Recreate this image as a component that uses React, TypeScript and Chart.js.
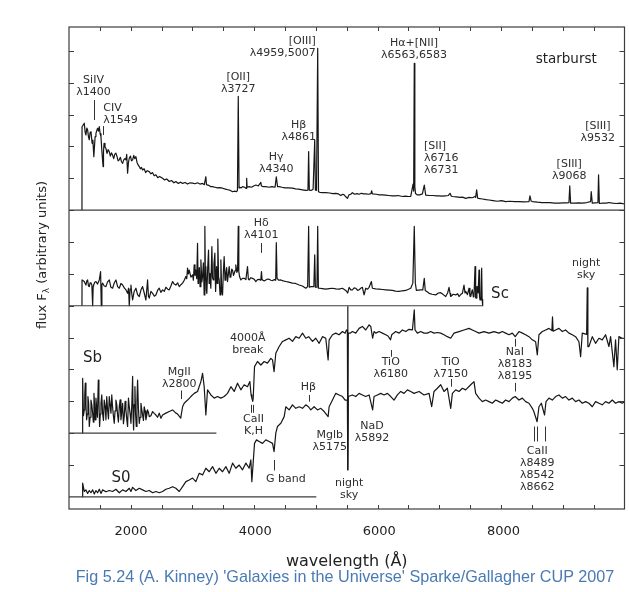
import React, { useEffect, useRef } from "react";
import { Chart, registerables } from "chart.js";

Chart.register(...registerables);

type Pt = [number, number];

// Wavelength (Å) and flux range of the plot box; flux is in stacked arbitrary units.
const WAVE_MIN = 1000;
const WAVE_MAX = 9950;
const FLUX_MIN = -0.38;
const FLUX_MAX = 14.75;

// Vertical offset of each spectrum's zero line, and where that zero line stops (Å).
const offsets = [9, 6, 2, 0];
const zeroLineEnds = [9950, 7665, 3375, 4985];

// Starburst galaxy: [wavelength Å, flux above its zero line]
const starburstFlux: Pt[] = [
  [1209, 0], [1210, 2.62], [1246, 2.73], [1260, 2.45], [1273, 2.36], [1287, 2.58], [1300, 2.52], [1314, 2.3],
  [1327, 2.21], [1340, 2.44], [1354, 2.47], [1372, 2.1], [1385, 2.2], [1400, 1.68], [1412, 2.05], [1421, 2.31],
  [1434, 2.41], [1448, 2.5], [1461, 2.57], [1475, 2.48], [1488, 2.62], [1502, 2.4], [1515, 2.31], [1528, 1.9],
  [1549, 1.37], [1556, 1.85], [1565, 2.1], [1580, 1.98], [1595, 1.94], [1612, 1.78], [1630, 1.9], [1649, 1.84],
  [1666, 1.7], [1684, 1.8], [1702, 1.73], [1720, 1.62], [1738, 1.76], [1756, 1.79], [1774, 1.68], [1792, 1.55],
  [1810, 1.58], [1828, 1.66], [1846, 1.52], [1864, 1.47], [1882, 1.58], [1900, 1.62], [1917, 1.58], [1930, 1.75],
  [1944, 1.16], [1958, 1.5], [1971, 1.63], [1990, 1.7], [2007, 1.55], [2025, 1.58], [2043, 1.72], [2060, 1.62],
  [2078, 1.68], [2096, 1.5], [2114, 1.42], [2132, 1.37], [2150, 1.3], [2168, 1.34], [2186, 1.26], [2210, 1.3],
  [2235, 1.18], [2260, 1.24], [2293, 1.21], [2320, 1.14], [2345, 1.18], [2372, 1.08], [2400, 1.11], [2430, 1.02],
  [2460, 1.06], [2508, 1.0], [2540, 0.95], [2575, 0.98], [2615, 0.9], [2650, 0.93], [2690, 0.86], [2722, 0.9],
  [2760, 0.84], [2800, 0.88], [2830, 0.84], [2870, 0.87], [2910, 0.82], [2950, 0.86], [2991, 0.85], [3030, 0.83],
  [3070, 0.86], [3110, 0.82], [3152, 0.84], [3180, 0.8], [3205, 1.05], [3215, 0.8], [3250, 0.78], [3280, 0.74],
  [3313, 0.74], [3350, 0.72], [3390, 0.7], [3430, 0.71], [3474, 0.69], [3520, 0.66], [3560, 0.64], [3600, 0.62],
  [3635, 0.58], [3670, 0.6], [3700, 0.58], [3714, 0.62], [3727, 3.57], [3740, 0.7], [3750, 0.72], [3775, 0.7],
  [3796, 0.74], [3830, 0.72], [3855, 0.68], [3862, 1.0], [3870, 0.72], [3903, 0.74], [3940, 0.72], [3975, 0.76],
  [4010, 0.79], [4050, 0.76], [4091, 0.87], [4100, 0.76], [4130, 0.74], [4171, 0.74], [4220, 0.72], [4270, 0.74],
  [4320, 0.72], [4340, 1.05], [4360, 0.74], [4386, 0.74], [4430, 0.72], [4480, 0.7], [4530, 0.7], [4601, 0.69],
  [4650, 0.67], [4700, 0.66], [4760, 0.64], [4815, 0.62], [4850, 0.63], [4861, 1.84], [4872, 0.63], [4900, 0.62],
  [4933, 0.66], [4959, 2.21], [4970, 0.63], [4988, 0.62], [5007, 5.08], [5020, 0.58], [5040, 0.56], [5090, 0.55],
  [5137, 0.55], [5200, 0.54], [5250, 0.52], [5298, 0.53], [5340, 0.51], [5380, 0.46], [5410, 0.5], [5433, 0.48],
  [5460, 0.42], [5486, 0.37], [5510, 0.48], [5540, 0.5], [5566, 0.55], [5600, 0.5], [5640, 0.52], [5674, 0.5],
  [5710, 0.53], [5750, 0.51], [5781, 0.51], [5830, 0.5], [5865, 0.52], [5876, 0.61], [5888, 0.51], [5950, 0.5],
  [6000, 0.48], [6049, 0.48], [6100, 0.47], [6150, 0.46], [6210, 0.45], [6260, 0.45], [6300, 0.46], [6372, 0.43],
  [6420, 0.44], [6470, 0.43], [6506, 0.43], [6543, 0.82], [6553, 0.6], [6563, 4.61], [6572, 0.74], [6583, 0.52],
  [6613, 0.48], [6650, 0.48], [6694, 0.51], [6724, 0.79], [6747, 0.47], [6800, 0.46], [6860, 0.46], [6920, 0.45],
  [6962, 0.45], [7010, 0.44], [7065, 0.45], [7110, 0.46], [7139, 0.53], [7160, 0.44], [7177, 0.43], [7240, 0.42],
  [7300, 0.4], [7340, 0.41], [7391, 0.37], [7450, 0.4], [7500, 0.39], [7540, 0.43], [7552, 0.4], [7568, 0.64],
  [7584, 0.38], [7595, 0.37], [7660, 0.35], [7720, 0.33], [7767, 0.32], [7830, 0.3], [7900, 0.28], [7970, 0.3],
  [8035, 0.27], [8100, 0.28], [8180, 0.27], [8250, 0.27], [8330, 0.26], [8411, 0.27], [8427, 0.45], [8445, 0.29],
  [8465, 0.27], [8550, 0.25], [8620, 0.24], [8680, 0.24], [8750, 0.24], [8820, 0.22], [8894, 0.22], [8960, 0.23],
  [9020, 0.23], [9055, 0.24], [9068, 0.76], [9082, 0.22], [9150, 0.22], [9210, 0.23], [9270, 0.22], [9340, 0.24],
  [9404, 0.27], [9414, 0.58], [9431, 0.22], [9480, 0.23], [9522, 0.24], [9532, 1.11], [9545, 0.21], [9600, 0.22],
  [9660, 0.22], [9700, 0.24], [9753, 0.22], [9820, 0.21], [9880, 0.22], [9940, 0.2],
];

// Sc spiral
const scFlux: Pt[] = [
  [1209, 0], [1210, 0.81], [1246, 0.76], [1260, 0.7], [1273, 0.65], [1287, 0.78], [1300, 0.81], [1314, 0.62],
  [1327, 0.6], [1340, 0.72], [1354, 0.71], [1368, 0.66], [1381, 0.0], [1390, 0.62], [1397, 0.65], [1415, 0.74],
  [1434, 0.76], [1460, 0.68], [1488, 0.81], [1509, 1.07], [1520, 0.0], [1530, 0.66], [1541, 0.71], [1568, 0.62],
  [1595, 0.6], [1620, 0.74], [1649, 0.81], [1675, 0.58], [1702, 0.55], [1730, 0.72], [1756, 0.81], [1783, 0.6],
  [1810, 0.55], [1837, 0.7], [1864, 0.65], [1890, 0.56], [1917, 0.5], [1944, 0.39], [1960, 0.55], [1971, 0.0],
  [1985, 0.52], [1998, 0.65], [2010, 0.4], [2025, 0.18], [2050, 0.45], [2078, 0.55], [2105, 0.35], [2132, 0.29],
  [2160, 0.5], [2186, 0.6], [2212, 0.4], [2239, 0.18], [2255, 0.55], [2266, 0.81], [2280, 0.3], [2293, 0.24],
  [2320, 0.45], [2347, 0.39], [2375, 0.3], [2400, 0.34], [2427, 0.48], [2454, 0.55], [2480, 0.42], [2508, 0.5],
  [2535, 0.45], [2561, 0.58], [2590, 0.52], [2615, 0.5], [2642, 0.62], [2669, 0.76], [2695, 0.68], [2722, 0.65],
  [2750, 0.72], [2776, 0.6], [2803, 0.66], [2830, 0.71], [2857, 0.8], [2883, 0.92], [2897, 0.85], [2910, 1.18],
  [2924, 1.0], [2937, 1.12], [2964, 0.9], [2991, 0.97], [3004, 0.8], [3017, 1.28], [3030, 0.95], [3044, 1.12],
  [3058, 0.85], [3071, 1.96], [3080, 0.7], [3087, 0.81], [3100, 1.2], [3112, 0.6], [3125, 1.44], [3140, 0.75],
  [3152, 0.92], [3165, 1.35], [3178, 0.34], [3189, 2.49], [3198, 0.8], [3205, 1.23], [3213, 0.5], [3221, 0.39],
  [3235, 1.2], [3248, 1.75], [3258, 0.7], [3270, 1.02], [3285, 0.55], [3302, 1.86], [3312, 0.9], [3323, 0.81],
  [3335, 1.3], [3350, 1.65], [3362, 0.45], [3377, 1.23], [3388, 0.7], [3398, 2.09], [3410, 0.9], [3420, 0.81],
  [3434, 0.34], [3447, 1.44], [3460, 0.5], [3474, 0.34], [3488, 1.1], [3500, 1.54], [3514, 0.8], [3527, 1.02],
  [3540, 1.2], [3554, 0.76], [3568, 1.0], [3581, 1.23], [3595, 0.9], [3608, 0.92], [3622, 1.15], [3635, 1.12],
  [3650, 0.95], [3662, 1.02], [3675, 1.1], [3688, 1.28], [3705, 1.05], [3716, 1.1], [3727, 2.49], [3736, 1.07],
  [3750, 0.9], [3769, 0.81], [3795, 0.86], [3822, 0.86], [3850, 0.82], [3876, 1.23], [3890, 0.84], [3903, 0.81],
  [3930, 0.88], [3957, 0.86], [3985, 0.83], [4010, 0.76], [4037, 0.82], [4064, 0.83], [4090, 0.8], [4101, 1.07],
  [4110, 0.82], [4118, 0.81], [4145, 0.78], [4171, 0.81], [4200, 0.84], [4225, 0.83], [4252, 0.8], [4279, 0.79],
  [4310, 0.82], [4330, 0.8], [4340, 1.98], [4352, 0.86], [4380, 0.8], [4413, 0.81], [4450, 0.78], [4493, 0.76],
  [4540, 0.74], [4601, 0.71], [4650, 0.7], [4708, 0.65], [4760, 0.62], [4815, 0.55], [4845, 0.6], [4861, 2.49],
  [4872, 0.58], [4900, 0.6], [4945, 0.6], [4959, 1.6], [4970, 0.58], [4995, 0.58], [5007, 2.49], [5018, 0.55],
  [5040, 0.55], [5080, 0.54], [5137, 0.52], [5190, 0.54], [5245, 0.55], [5300, 0.53], [5352, 0.52], [5405, 0.55],
  [5459, 0.48], [5490, 0.4], [5513, 0.58], [5540, 0.5], [5566, 0.5], [5595, 0.56], [5620, 0.55], [5650, 0.48],
  [5674, 0.5], [5700, 0.55], [5727, 0.58], [5754, 0.34], [5781, 0.55], [5810, 0.52], [5835, 0.58], [5872, 0.76],
  [5888, 0.55], [5940, 0.53], [5996, 0.52], [6050, 0.51], [6103, 0.5], [6160, 0.49], [6211, 0.48], [6260, 0.46],
  [6318, 0.45], [6370, 0.47], [6425, 0.48], [6470, 0.52], [6506, 0.55], [6540, 0.71], [6563, 2.49], [6580, 0.71],
  [6597, 0.48], [6630, 0.49], [6667, 0.5], [6700, 0.5], [6724, 0.86], [6740, 0.48], [6770, 0.44], [6801, 0.39],
  [6850, 0.36], [6908, 0.34], [6950, 0.4], [6989, 0.41], [7030, 0.35], [7069, 0.29], [7100, 0.4], [7123, 0.58],
  [7140, 0.38], [7150, 0.29], [7190, 0.36], [7230, 0.34], [7260, 0.38], [7284, 0.29], [7310, 0.35], [7338, 0.39],
  [7364, 0.65], [7380, 0.4], [7391, 0.45], [7420, 0.35], [7445, 0.55], [7460, 0.3], [7472, 0.29], [7490, 0.45],
  [7499, 0.5], [7515, 0.28], [7525, 0.29], [7542, 1.23], [7552, 0.25], [7563, 0.24], [7572, 0.6], [7579, 0.6],
  [7592, 0.4], [7606, 1.12], [7614, 0.3], [7622, 0.18], [7636, 0.35], [7649, 1.18], [7656, 0.2], [7665, 0.0],
];

// Sb spiral
const sbFlux: Pt[] = [
  [1219, 0], [1220, 1.72], [1233, 0.55], [1246, 0.73], [1254, 1.2], [1262, 1.57], [1273, 0.9], [1284, 0.42],
  [1295, 0.6], [1305, 1.15], [1316, 0.95], [1327, 0.21], [1340, 0.5], [1354, 1.04], [1367, 0.9], [1381, 0.63],
  [1392, 0.35], [1402, 1.25], [1412, 0.9], [1423, 0.42], [1434, 1.1], [1445, 0.83], [1458, 0.5], [1472, 1.67],
  [1482, 1.0], [1493, 0.21], [1504, 0.6], [1515, 0.94], [1528, 1.2], [1541, 0.63], [1555, 0.4], [1568, 1.04],
  [1582, 0.85], [1595, 0.42], [1608, 1.15], [1622, 0.73], [1636, 0.45], [1649, 1.15], [1662, 0.9], [1676, 0.63],
  [1689, 1.2], [1702, 0.83], [1715, 0.55], [1729, 0.31], [1742, 0.7], [1756, 1.04], [1770, 0.9], [1783, 0.57],
  [1796, 0.35], [1810, 0.83], [1824, 1.05], [1837, 0.42], [1850, 0.65], [1864, 0.94], [1877, 0.3], [1890, 0.52],
  [1904, 1.0], [1917, 0.73], [1930, 0.45], [1944, 0.21], [1958, 1.1], [1971, 0.83], [1985, 0.6], [1998, 0.31],
  [2012, 0.9], [2025, 1.78], [2033, 0.5], [2041, 0.1], [2051, 0.9], [2062, 1.46], [2073, 0.6], [2084, 0.21],
  [2095, 1.0], [2105, 1.67], [2118, 0.8], [2132, 0.31], [2145, 0.5], [2159, 0.94], [2172, 0.75], [2186, 0.57],
  [2199, 0.4], [2212, 0.83], [2225, 0.7], [2239, 0.42], [2252, 0.55], [2266, 0.73], [2280, 0.65], [2293, 0.52],
  [2320, 0.55], [2347, 0.68], [2373, 0.62], [2400, 0.57], [2427, 0.5], [2454, 0.63],
  [2481, 0.47], [2508, 0.57], [2561, 0.63], [2615, 0.68], [2669, 0.73], [2722, 0.63], [2750, 0.6], [2800, 0.47],
  [2830, 0.83], [2856, 0.94], [2910, 1.04], [2964, 1.15], [3017, 1.25], [3071, 1.31], [3125, 1.62], [3152, 1.88],
  [3178, 1.46], [3205, 0.57], [3232, 1.36], [3286, 1.2], [3340, 1.1], [3393, 1.15], [3447, 1.1], [3500, 1.15],
  [3554, 1.25], [3608, 1.46], [3662, 1.31], [3715, 1.57], [3769, 1.36], [3822, 1.52], [3876, 1.46], [3914, 1.62],
  [3934, 1.2], [3946, 1.1], [3960, 1.0], [3968, 1.1], [3989, 2.09], [4037, 2.25], [4091, 2.14], [4144, 2.25],
  [4198, 2.2], [4252, 2.35], [4279, 2.3], [4304, 1.93], [4332, 2.51], [4386, 2.72], [4440, 2.88], [4493, 2.93],
  [4547, 2.98], [4601, 2.88], [4654, 3.03], [4708, 2.98], [4762, 3.14], [4815, 2.98], [4861, 3.03], [4923, 2.88],
  [4976, 2.98], [5030, 2.82], [5084, 3.03], [5137, 2.98], [5175, 2.3], [5191, 2.93], [5245, 3.09], [5298, 3.14],
  [5352, 3.09], [5406, 3.19], [5449, 3.14], [5470, 3.24], [5485, 3.2], [5490, 3.97], [5495, -1.15], [5500, 3.14],
  [5529, 3.14], [5566, 3.19], [5620, 3.14], [5674, 3.29], [5727, 3.35], [5781, 3.24], [5835, 3.4], [5862, 3.35],
  [5892, 2.98], [5915, 3.19], [5942, 3.14], [5996, 3.19], [6049, 3.14], [6103, 3.09], [6140, 3.05], [6180, 2.93],
  [6200, 3.09], [6230, 3.14], [6264, 3.19], [6318, 3.14], [6372, 3.24], [6425, 3.19], [6479, 3.26], [6533, 3.24],
  [6563, 3.87], [6575, 3.24], [6613, 3.14], [6667, 3.19], [6720, 3.14], [6774, 3.14], [6828, 3.19], [6881, 3.14],
  [6935, 3.16], [6989, 3.14], [7042, 3.09], [7096, 3.03], [7150, 2.98], [7203, 3.14], [7284, 3.19], [7364, 3.24],
  [7445, 3.29], [7499, 3.24], [7552, 3.19], [7606, 3.14], [7686, 3.19], [7767, 3.14], [7847, 3.19], [7928, 3.14],
  [7982, 3.19], [8035, 3.14], [8089, 3.09], [8143, 3.14], [8189, 3.03], [8250, 3.19], [8304, 3.14], [8357, 3.09],
  [8411, 3.03], [8465, 2.93], [8518, 2.87], [8545, 2.46], [8572, 3.09], [8626, 3.19], [8680, 3.24], [8733, 3.29],
  [8780, 3.22], [8790, 3.65], [8800, 3.2], [8840, 3.24], [8894, 3.29], [8948, 3.19], [9001, 3.24], [9055, 3.14],
  [9109, 3.09], [9162, 3.03], [9216, 2.87], [9243, 2.4], [9270, 3.14], [9340, 3.1], [9350, 4.56], [9360, 2.72],
  [9377, 2.72], [9431, 3.03], [9484, 2.82], [9538, 2.98], [9592, 2.93], [9645, 3.09], [9699, 2.72], [9726, 3.03],
  [9779, 2.09], [9806, 2.93], [9833, 1.99], [9860, 3.03], [9913, 2.98], [9940, 2.98],
];

// S0 lenticular
const s0Flux: Pt[] = [
  [1219, 0], [1220, 0.43], [1246, 0.17], [1273, 0.22], [1300, 0.11], [1327, 0.2], [1354, 0.13], [1381, 0.22],
  [1407, 0.09], [1434, 0.2], [1461, 0.13], [1488, 0.24], [1515, 0.11], [1541, 0.22], [1595, 0.16], [1649, 0.2],
  [1702, 0.17], [1756, 0.24], [1810, 0.13], [1864, 0.22], [1917, 0.17], [1971, 0.27], [1998, 0.17], [2025, 0.3],
  [2078, 0.2], [2132, 0.27], [2186, 0.22], [2239, 0.17], [2293, 0.2], [2347, 0.13], [2400, 0.17], [2454, 0.13],
  [2508, 0.17], [2561, 0.24], [2615, 0.27], [2669, 0.32], [2722, 0.27], [2776, 0.17], [2830, 0.32], [2883, 0.48],
  [2937, 0.53], [2991, 0.59], [3044, 0.48], [3098, 0.74], [3152, 0.69], [3205, 0.9], [3259, 0.79], [3313, 0.95],
  [3367, 0.74], [3420, 0.9], [3474, 0.79], [3527, 0.95], [3581, 0.74], [3635, 1.06], [3688, 0.9], [3742, 1.0],
  [3796, 0.85], [3850, 1.06], [3903, 0.9], [3930, 1.16], [3946, 0.48], [3967, 1.06], [3989, 1.68], [4021, 1.79],
  [4064, 1.74], [4118, 1.68], [4171, 1.79], [4225, 1.74], [4279, 1.68], [4304, 1.42], [4332, 2.0], [4359, 2.21],
  [4413, 2.31], [4467, 2.52], [4493, 2.83], [4547, 2.73], [4601, 2.89], [4654, 2.78], [4708, 2.83], [4762, 2.78],
  [4815, 2.89], [4858, 2.83], [4896, 2.73], [4949, 2.83], [5003, 2.73], [5057, 2.78], [5111, 2.68], [5175, 2.52],
  [5191, 2.83], [5245, 3.04], [5298, 3.25], [5352, 3.2], [5406, 3.15], [5449, 3.04], [5485, 3.04], [5492, 0.85],
  [5500, 3.15], [5566, 3.2], [5620, 3.15], [5674, 3.25], [5727, 3.2], [5781, 3.15], [5835, 3.2], [5892, 2.73],
  [5915, 3.15], [5969, 3.2], [6023, 3.25], [6076, 3.2], [6130, 3.25], [6184, 3.15], [6237, 3.04], [6291, 3.2],
  [6345, 3.31], [6398, 3.25], [6452, 3.36], [6506, 3.31], [6559, 3.25], [6640, 3.31], [6720, 3.2], [6801, 3.25],
  [6843, 2.83], [6881, 3.31], [6935, 3.41], [6989, 3.52], [7042, 3.31], [7096, 3.41], [7150, 2.78], [7177, 3.25],
  [7230, 3.36], [7284, 3.31], [7338, 3.41], [7391, 3.36], [7472, 3.52], [7525, 3.62], [7552, 3.25], [7606, 3.1],
  [7660, 2.99], [7713, 3.04], [7767, 2.99], [7820, 2.94], [7874, 3.04], [7928, 2.99], [7982, 2.94], [8035, 3.04],
  [8089, 2.99], [8143, 3.1], [8189, 3.15], [8250, 3.04], [8304, 3.1], [8357, 2.99], [8411, 2.94], [8465, 2.78],
  [8489, 2.68], [8542, 2.36], [8572, 2.83], [8610, 2.94], [8662, 2.57], [8685, 2.99], [8733, 3.1], [8787, 3.04],
  [8840, 3.15], [8894, 3.2], [8948, 3.1], [9001, 3.15], [9055, 3.04], [9109, 3.1], [9162, 2.99], [9216, 3.04],
  [9270, 2.94], [9323, 2.99], [9377, 2.94], [9431, 2.83], [9484, 2.99], [9538, 2.94], [9592, 2.89], [9645, 2.99],
  [9699, 2.94], [9753, 3.04], [9806, 2.94], [9860, 2.99], [9913, 2.94], [9950, 2.99],
];

const spectra = [starburstFlux, scFlux, sbFlux, s0Flux];

// Wavelengths that carry a number on the axis
const labelledWavelengths = [2000, 4000, 6000, 8000];

// Galaxy type names: [text, wavelength Å, stacked flux]
const typeNames: [string, number, number][] = [
  ["starburst", 9011, 13.74],
  ["Sc", 7944, 6.37],
  ["Sb", 1380, 4.35],
  ["S0", 1837, 0.59],
];

// Line identifications: text lines, anchor wavelength, stacked flux of the first line, alignment
type LineLabel = { text: string[]; x: number; y: number; align?: CanvasTextAlign };
const lineLabels: LineLabel[] = [
  { text: ["SiIV", "λ1400"], x: 1395, y: 13.09 },
  { text: ["CIV", "λ1549"], x: 1552, y: 12.2, align: "left" },
  { text: ["[OII]", "λ3727"], x: 3727, y: 13.17 },
  { text: ["[OIII]", "λ4959,5007"], x: 4975, y: 14.32, align: "right" },
  { text: ["Hβ", "λ4861"], x: 4700, y: 11.68 },
  { text: ["Hγ", "λ4340"], x: 4338, y: 10.68 },
  { text: ["Hα+[NII]", "λ6563,6583"], x: 6559, y: 14.24 },
  { text: ["[SII]", "λ6716", "λ6731"], x: 6720, y: 11.02, align: "left" },
  { text: ["[SIII]", "λ9068"], x: 9060, y: 10.44 },
  { text: ["[SIII]", "λ9532"], x: 9520, y: 11.64 },
  { text: ["Hδ", "λ4101"], x: 4096, y: 8.59 },
  { text: ["night", "sky"], x: 9333, y: 7.34 },
  { text: ["MgII", "λ2800"], x: 2775, y: 3.93 },
  { text: ["4000Å", "break"], x: 3880, y: 4.98 },
  { text: ["CaII", "K,H"], x: 3972, y: 2.45 },
  { text: ["Hβ"], x: 4858, y: 3.44 },
  { text: ["Mglb", "λ5175"], x: 5200, y: 1.95 },
  { text: ["G band"], x: 4494, y: 0.56 },
  { text: ["night", "sky"], x: 5513, y: 0.43 },
  { text: ["TiO", "λ6180"], x: 6184, y: 4.22 },
  { text: ["TiO", "λ7150"], x: 7150, y: 4.22 },
  { text: ["NaI", "λ8183", "λ8195"], x: 8185, y: 4.53 },
  { text: ["NaD", "λ5892"], x: 5883, y: 2.21 },
  { text: ["CaII", "λ8489", "λ8542", "λ8662"], x: 8544, y: 1.45 },
];

// Short pointer marks: [wavelength Å, stacked flux from, stacked flux to]
const pointerMarks: [number, number, number][] = [
  [1400, 12.46, 11.83],
  [1549, 11.64, 11.36],
  [4101, 7.97, 7.66],
  [2800, 3.34, 3.07],
  [3934, 2.89, 2.64],
  [3968, 2.89, 2.64],
  [4861, 3.2, 2.99],
  [4304, 1.16, 0.83],
  [6180, 4.61, 4.4],
  [7150, 3.7, 3.46],
  [8189, 4.96, 4.72],
  [8189, 3.58, 3.31],
  [8489, 2.21, 1.74],
  [8542, 2.21, 1.74],
  [8662, 2.21, 1.74],
];

const INK = "#161616";
const LABEL_INK = "#2e2e2e";
const FONT = '"DejaVu Sans", sans-serif';

const decorations = {
  id: "spectrumDecorations",
  afterDraw(chart: any) {
    const { ctx, chartArea: a, scales } = chart;
    const xs = scales.x;
    const ys = scales.y;
    ctx.save();

    // plot frame
    ctx.strokeStyle = "#3c3c3c";
    ctx.lineWidth = 1.2;
    ctx.strokeRect(a.left, a.top, a.right - a.left, a.bottom - a.top);

    // inward ticks on all four sides
    ctx.lineWidth = 1;
    ctx.beginPath();
    for (const t of xs.ticks) {
      if (t.value <= xs.min || t.value >= xs.max) continue;
      const px = Math.round(xs.getPixelForValue(t.value)) + 0.5;
      const len = t.value % 2000 === 0 ? 8 : 4;
      ctx.moveTo(px, a.bottom);
      ctx.lineTo(px, a.bottom - len);
      ctx.moveTo(px, a.top);
      ctx.lineTo(px, a.top + len);
    }
    for (const t of ys.ticks) {
      if (!Number.isInteger(t.value)) continue;
      const py = Math.round(ys.getPixelForValue(t.value)) + 0.5;
      ctx.moveTo(a.left, py);
      ctx.lineTo(a.left + 5, py);
      ctx.moveTo(a.right, py);
      ctx.lineTo(a.right - 5, py);
    }
    ctx.stroke();

    // pointer marks next to spectral features
    ctx.strokeStyle = "#333";
    ctx.lineWidth = 1;
    ctx.beginPath();
    for (const [w, f1, f2] of pointerMarks) {
      const px = Math.round(xs.getPixelForValue(w)) + 0.5;
      ctx.moveTo(px, ys.getPixelForValue(f1));
      ctx.lineTo(px, ys.getPixelForValue(f2));
    }
    ctx.stroke();

    // feature labels
    ctx.fillStyle = LABEL_INK;
    ctx.textBaseline = "middle";
    ctx.font = `11px ${FONT}`;
    for (const lbl of lineLabels) {
      ctx.textAlign = lbl.align ?? "center";
      const px = xs.getPixelForValue(lbl.x);
      const py = ys.getPixelForValue(lbl.y);
      lbl.text.forEach((s, i) => ctx.fillText(s, px, py + i * 12));
    }

    // galaxy type names
    ctx.fillStyle = "#222";
    ctx.textAlign = "center";
    for (const [name, w, f] of typeNames) {
      ctx.font = name === "starburst" ? `13.5px ${FONT}` : `15px ${FONT}`;
      ctx.fillText(name, xs.getPixelForValue(w), ys.getPixelForValue(f));
    }

    // wavelength numbers under the axis
    ctx.fillStyle = "#222";
    ctx.font = `13px ${FONT}`;
    ctx.textAlign = "center";
    ctx.textBaseline = "alphabetic";
    for (const w of labelledWavelengths) {
      ctx.fillText(String(w), xs.getPixelForValue(w), a.bottom + 26);
    }

    // vertical axis title with subscript lambda
    const cx = a.left - 26;
    const cy = 255;
    ctx.translate(cx, cy);
    ctx.rotate(-Math.PI / 2);
    ctx.fillStyle = "#222";
    ctx.textAlign = "left";
    ctx.textBaseline = "middle";
    const main = "flux F";
    const sub = "λ";
    const rest = " (arbitrary units)";
    ctx.font = `13px ${FONT}`;
    const w1 = ctx.measureText(main).width;
    const w3 = ctx.measureText(rest).width;
    ctx.font = `9px ${FONT}`;
    const w2 = ctx.measureText(sub).width;
    let x0 = -(w1 + w2 + w3) / 2;
    ctx.font = `13px ${FONT}`;
    ctx.fillText(main, x0, 0);
    x0 += w1;
    ctx.font = `9px ${FONT}`;
    ctx.fillText(sub, x0, 4);
    x0 += w2;
    ctx.font = `13px ${FONT}`;
    ctx.fillText(rest, x0, 0);

    ctx.restore();
  },
};

export default function App() {
  const canvasRef = useRef<HTMLCanvasElement | null>(null);

  useEffect(() => {
    if (!canvasRef.current) return;

    const datasets: any[] = [];
    spectra.forEach((flux, i) => {
      // zero line of this spectrum
      datasets.push({
        data: [
          { x: WAVE_MIN, y: offsets[i] },
          { x: zeroLineEnds[i], y: offsets[i] },
        ],
        borderColor: "#3c3c3c",
        borderWidth: 1.2,
        pointRadius: 0,
      });
      datasets.push({
        data: flux.map(([w, f]) => ({ x: w, y: f + offsets[i] })),
        borderColor: INK,
        borderWidth: 1.2,
        borderJoinStyle: "round",
        pointRadius: 0,
      });
    });

    const chart = new Chart(canvasRef.current, {
      type: "line",
      data: { datasets },
      plugins: [decorations],
      options: {
        responsive: false,
        animation: false,
        events: [],
        layout: { padding: { top: 27, right: 4.5, left: 0, bottom: 0 } },
        plugins: { legend: { display: false }, tooltip: { enabled: false } },
        elements: { line: { tension: 0 } },
        scales: {
          x: {
            type: "linear",
            position: "bottom",
            min: WAVE_MIN,
            max: WAVE_MAX,
            afterFit: (s: any) => {
              s.height = 83;
              s.paddingLeft = 0;
              s.paddingRight = 0;
            },
            grid: { display: false, drawTicks: false },
            border: { display: false },
            ticks: { display: false, stepSize: 500, autoSkip: false, maxRotation: 0 },
            title: {
              display: true,
              text: "wavelength (Å)",
              color: "#222",
              font: { family: FONT, size: 16 },
              padding: { top: 0, bottom: 21 },
            },
          },
          y: {
            type: "linear",
            min: FLUX_MIN,
            max: FLUX_MAX,
            afterFit: (s: any) => {
              s.width = 69;
              s.paddingTop = 0;
              s.paddingBottom = 0;
            },
            grid: { display: false, drawTicks: false },
            border: { display: false },
            ticks: { display: false, stepSize: 1 },
          },
        },
      },
    });

    return () => chart.destroy();
  }, []);

  return (
    <div style={{ position: "absolute", left: 0, top: 0, width: 629, height: 592, background: "#fff" }}>
      <canvas ref={canvasRef} width={629} height={592} style={{ display: "block" }} />
      <div
        style={{
          position: "absolute",
          left: 0,
          width: 629,
          top: 567,
          paddingLeft: 61,
          textAlign: "center",
          boxSizing: "border-box",
          fontFamily: '"Liberation Sans", Arial, sans-serif',
          fontSize: 16.2,
          lineHeight: "19px",
          color: "#4a7ab3",
          whiteSpace: "nowrap",
        }}
      >
        Fig 5.24 (A. Kinney) 'Galaxies in the Universe' Sparke/Gallagher CUP 2007
      </div>
    </div>
  );
}
